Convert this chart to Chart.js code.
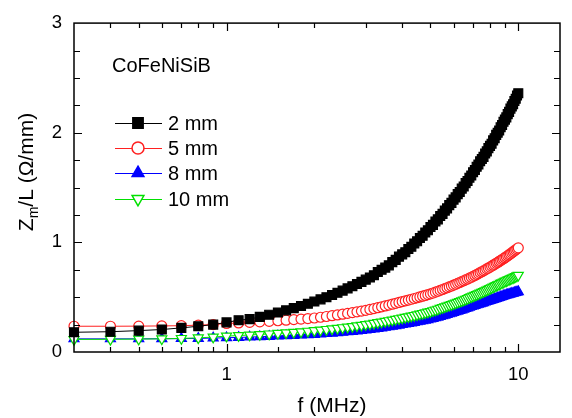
<!DOCTYPE html>
<html lang="en">
<head>
<meta charset="utf-8" />
<script src="https://cdn.jsdelivr.net/npm/chart.js@4/dist/chart.umd.min.js"></script>
<style>
  html, body { margin: 0; padding: 0; background: #fff; }
  #wrap { width: 572px; height: 418px; }
</style>
</head>
<body>
<div id="wrap"><canvas id="myChart" width="572" height="418"></canvas></div>
<script>
// frequency in MHz
const freq = [
  0.3, 0.4, 0.5, 0.6, 0.7, 0.8, 0.9,
  1.0, 1.1, 1.2, 1.3, 1.4, 1.5, 1.6, 1.7, 1.8, 1.9,
  2.0, 2.1, 2.2, 2.3, 2.4, 2.5, 2.6, 2.7, 2.8, 2.9,
  3.0, 3.1, 3.2, 3.3, 3.4, 3.5, 3.6, 3.7, 3.8, 3.9,
  4.0, 4.1, 4.2, 4.3, 4.4, 4.5, 4.6, 4.7, 4.8, 4.9,
  5.0, 5.1, 5.2, 5.3, 5.4, 5.5, 5.6, 5.7, 5.8, 5.9,
  6.0, 6.1, 6.2, 6.3, 6.4, 6.5, 6.6, 6.7, 6.8, 6.9,
  7.0, 7.1, 7.2, 7.3, 7.4, 7.5, 7.6, 7.7, 7.8, 7.9,
  8.0, 8.1, 8.2, 8.3, 8.4, 8.5, 8.6, 8.7, 8.8, 8.9,
  9.0, 9.1, 9.2, 9.3, 9.4, 9.5, 9.6, 9.7, 9.8, 9.9,
  10.0
];

// Zm/L in ohm/mm
const z2mm = [
  0.18, 0.185, 0.195, 0.205, 0.22, 0.235, 0.25,
  0.27, 0.29, 0.30, 0.32, 0.34, 0.36, 0.38, 0.40, 0.42, 0.44,
  0.46, 0.48, 0.50, 0.52, 0.54, 0.56, 0.58, 0.60, 0.62, 0.64,
  0.66, 0.68, 0.70, 0.73, 0.75, 0.77, 0.79, 0.82, 0.84, 0.87,
  0.89, 0.91, 0.94, 0.96, 0.99, 1.01, 1.04, 1.06, 1.09, 1.11,
  1.14, 1.16, 1.19, 1.21, 1.24, 1.26, 1.29, 1.31, 1.34, 1.36,
  1.39, 1.41, 1.44, 1.46, 1.49, 1.51, 1.54, 1.56, 1.59, 1.61,
  1.64, 1.66, 1.69, 1.71, 1.74, 1.76, 1.78, 1.81, 1.83, 1.86,
  1.88, 1.90, 1.93, 1.95, 1.98, 2.00, 2.02, 2.05, 2.07, 2.10,
  2.12, 2.14, 2.17, 2.19, 2.22, 2.24, 2.26, 2.29, 2.31, 2.34,
  2.36
];
const z5mm = [
  0.235, 0.235, 0.236, 0.238, 0.24, 0.245, 0.25,
  0.26, 0.265, 0.27, 0.275, 0.28, 0.285, 0.29, 0.295, 0.30, 0.305,
  0.31, 0.317, 0.324, 0.331, 0.338, 0.345, 0.352, 0.359, 0.366, 0.373,
  0.38, 0.388, 0.396, 0.404, 0.412, 0.42, 0.428, 0.436, 0.444, 0.452,
  0.46, 0.467, 0.474, 0.481, 0.488, 0.495, 0.502, 0.509, 0.516, 0.523,
  0.53, 0.538, 0.546, 0.554, 0.562, 0.57, 0.578, 0.586, 0.594, 0.602,
  0.61, 0.618, 0.626, 0.634, 0.642, 0.65, 0.658, 0.666, 0.674, 0.682,
  0.69, 0.698, 0.707, 0.715, 0.724, 0.732, 0.741, 0.749, 0.758, 0.766,
  0.775, 0.783, 0.792, 0.80, 0.809, 0.817, 0.826, 0.834, 0.843, 0.851,
  0.86, 0.869, 0.878, 0.887, 0.896, 0.905, 0.914, 0.923, 0.932, 0.941,
  0.95
];
const z8mm = [
  0.12, 0.12, 0.12, 0.121, 0.122, 0.124, 0.127,
  0.13, 0.133, 0.136, 0.139, 0.142, 0.145, 0.148, 0.151, 0.154, 0.157,
  0.16, 0.164, 0.168, 0.172, 0.176, 0.18, 0.184, 0.188, 0.192, 0.196,
  0.20, 0.205, 0.21, 0.215, 0.22, 0.225, 0.23, 0.235, 0.24, 0.245,
  0.25, 0.255, 0.26, 0.265, 0.27, 0.275, 0.28, 0.285, 0.29, 0.295,
  0.30, 0.306, 0.312, 0.318, 0.324, 0.33, 0.336, 0.342, 0.348, 0.354,
  0.36, 0.366, 0.372, 0.378, 0.384, 0.39, 0.396, 0.402, 0.408, 0.414,
  0.42, 0.425, 0.43, 0.435, 0.44, 0.445, 0.45, 0.455, 0.46, 0.465,
  0.47, 0.475, 0.479, 0.484, 0.488, 0.493, 0.497, 0.502, 0.506, 0.511,
  0.515, 0.519, 0.522, 0.526, 0.529, 0.533, 0.536, 0.54, 0.543, 0.547,
  0.55
];
const z10mm = [
  0.115, 0.116, 0.118, 0.12, 0.124, 0.129, 0.136,
  0.145, 0.15, 0.155, 0.16, 0.165, 0.17, 0.175, 0.18, 0.185, 0.19,
  0.195, 0.20, 0.206, 0.211, 0.217, 0.222, 0.228, 0.233, 0.239, 0.244,
  0.25, 0.256, 0.262, 0.268, 0.274, 0.28, 0.286, 0.292, 0.298, 0.304,
  0.31, 0.316, 0.322, 0.328, 0.334, 0.34, 0.346, 0.352, 0.358, 0.364,
  0.37, 0.377, 0.384, 0.391, 0.398, 0.405, 0.412, 0.419, 0.426, 0.433,
  0.44, 0.447, 0.454, 0.461, 0.468, 0.475, 0.482, 0.489, 0.496, 0.503,
  0.51, 0.517, 0.524, 0.531, 0.538, 0.545, 0.552, 0.559, 0.566, 0.573,
  0.58, 0.587, 0.593, 0.60, 0.606, 0.613, 0.619, 0.626, 0.632, 0.639,
  0.645, 0.651, 0.656, 0.662, 0.667, 0.673, 0.678, 0.684, 0.689, 0.695,
  0.70
];

const seriesNames = ["2 mm", "5 mm", "8 mm", "10 mm"];
const xTickLabels = [1, 10];
const yTickLabels = [0, 1, 2, 3];

const FONT = "'Liberation Sans', Arial, Helvetica, sans-serif";

function pts(ys) {
  return freq.map((f, i) => ({ x: f, y: ys[i] }));
}

const series = [
  { data: z2mm, color: "#000000", style: "rect", radius: 6.3, fill: true, rot: 0 },
  { data: z5mm, color: "#ff2020", style: "circle", radius: 5, fill: false, rot: 0 },
  { data: z8mm, color: "#0000ff", style: "triangle", radius: 5.8, fill: true, rot: 0 },
  { data: z10mm, color: "#00e000", style: "triangle", radius: 5.8, fill: false, rot: 180 }
];

// order: black on top, then red, green, blue
const drawOrder = [1, 2, 4, 3];

const datasets = series.map((s, i) => ({
  label: seriesNames[i],
  data: pts(s.data),
  borderColor: s.color,
  borderWidth: 1,
  pointStyle: s.style,
  pointRadius: s.radius,
  pointRotation: s.rot,
  pointBackgroundColor: s.fill ? s.color : "#ffffff",
  pointBorderColor: s.color,
  pointBorderWidth: 1.2,
  pointHoverRadius: s.radius,
  tension: 0,
  clip: false,
  order: drawOrder[i]
}));

// frame, inward ticks, titles and legend
const decorations = {
  id: "decorations",
  afterDraw(chart) {
    const ctx = chart.ctx;
    const a = chart.chartArea;
    const xs = chart.scales.x;
    const ys = chart.scales.y;
    ctx.save();
    ctx.strokeStyle = "#000";
    ctx.lineWidth = 1.5;
    ctx.strokeRect(a.left, a.top, a.right - a.left, a.bottom - a.top);

    ctx.lineWidth = 1.2;
    ctx.beginPath();
    // x ticks (log)
    xs.ticks.forEach(t => {
      const v = t.value;
      if (v <= xs.min || v >= xs.max) return;
      const lg = Math.log10(v);
      const major = Math.abs(lg - Math.round(lg)) < 1e-6;
      const len = major ? 8 : 5;
      const px = Math.round(xs.getPixelForValue(v)) + 0.5;
      ctx.moveTo(px, a.bottom);
      ctx.lineTo(px, a.bottom - len);
      ctx.moveTo(px, a.top);
      ctx.lineTo(px, a.top + len);
    });
    // y ticks every 0.25
    for (let k = 1; k < 12; k++) {
      const v = k * 0.25;
      const major = k % 4 === 0;
      const len = major ? 8 : 6;
      const py = Math.round(ys.getPixelForValue(v)) + 0.5;
      ctx.moveTo(a.left, py);
      ctx.lineTo(a.left + len, py);
      ctx.moveTo(a.right, py);
      ctx.lineTo(a.right - len, py);
    }
    ctx.stroke();

    ctx.fillStyle = "#000";
    // x title
    ctx.font = "21px " + FONT;
    ctx.textAlign = "center";
    ctx.textBaseline = "middle";
    ctx.fillText("f (MHz)", 332, 406);

    // y title with subscript
    ctx.save();
    ctx.translate(27, 172);
    ctx.rotate(-Math.PI / 2);
    ctx.textAlign = "left";
    ctx.textBaseline = "middle";
    const big = "21px " + FONT, small = "14px " + FONT;
    ctx.font = big; const w1 = ctx.measureText("Z").width;
    ctx.font = small; const w2 = ctx.measureText("m").width;
    ctx.font = big; const w3 = ctx.measureText("/L (Ω/mm)").width;
    let x0 = -(w1 + w2 + w3) / 2;
    ctx.font = big; ctx.fillText("Z", x0, 0);
    ctx.font = small; ctx.fillText("m", x0 + w1, 7);
    ctx.font = big; ctx.fillText("/L (Ω/mm)", x0 + w1 + w2, 0);
    ctx.restore();

    // sample name
    ctx.font = "20px " + FONT;
    ctx.textAlign = "left";
    ctx.textBaseline = "middle";
    ctx.fillText("CoFeNiSiB", 112, 66);

    // legend
    const rows = [123, 148, 173, 199];
    series.forEach((s, i) => {
      const y = rows[i];
      ctx.strokeStyle = s.color;
      ctx.lineWidth = 1;
      ctx.beginPath();
      ctx.moveTo(115, y + 0.5);
      ctx.lineTo(162, y + 0.5);
      ctx.stroke();
      ctx.fillStyle = s.fill ? s.color : "#ffffff";
      ctx.lineWidth = 1.5;
      Chart.helpers.drawPoint(ctx, {
        pointStyle: s.style,
        radius: s.radius + 1,
        rotation: s.rot,
        borderWidth: 1.5
      }, 138, y);
      ctx.fillStyle = "#000";
      ctx.font = "20px " + FONT;
      ctx.fillText(seriesNames[i], 168, y + 1);
    });
    ctx.restore();
  }
};

Chart.defaults.font.family = FONT;
Chart.defaults.color = "#000";

const chart = new Chart(document.getElementById("myChart"), {
  type: "line",
  data: { datasets: datasets },
  options: {
    responsive: false,
    animation: false,
    events: [],
    layout: { padding: { top: 13, right: 3, left: 0, bottom: 0 } },
    plugins: { legend: { display: false }, tooltip: { enabled: false } },
    scales: {
      x: {
        type: "logarithmic",
        min: 0.3,
        max: 13.9,
        border: { display: false },
        grid: { display: false, drawTicks: false },
        afterFit(scale) { scale.height = 66; },
        ticks: {
          autoSkip: false,
          maxRotation: 0,
          padding: 12,
          font: { size: 18.5 },
          callback: v => (xTickLabels.includes(v) ? String(v) : "")
        }
      },
      y: {
        min: 0,
        max: 3,
        border: { display: false },
        grid: { display: false, drawTicks: false },
        afterFit(scale) { scale.width = 74; },
        afterBuildTicks(scale) {
          scale.ticks = yTickLabels.map(v => ({ value: v }));
        },
        ticks: {
          padding: 12,
          font: { size: 18.5 },
          callback: v => String(v)
        }
      }
    }
  },
  plugins: [decorations]
});
</script>
</body>
</html>
